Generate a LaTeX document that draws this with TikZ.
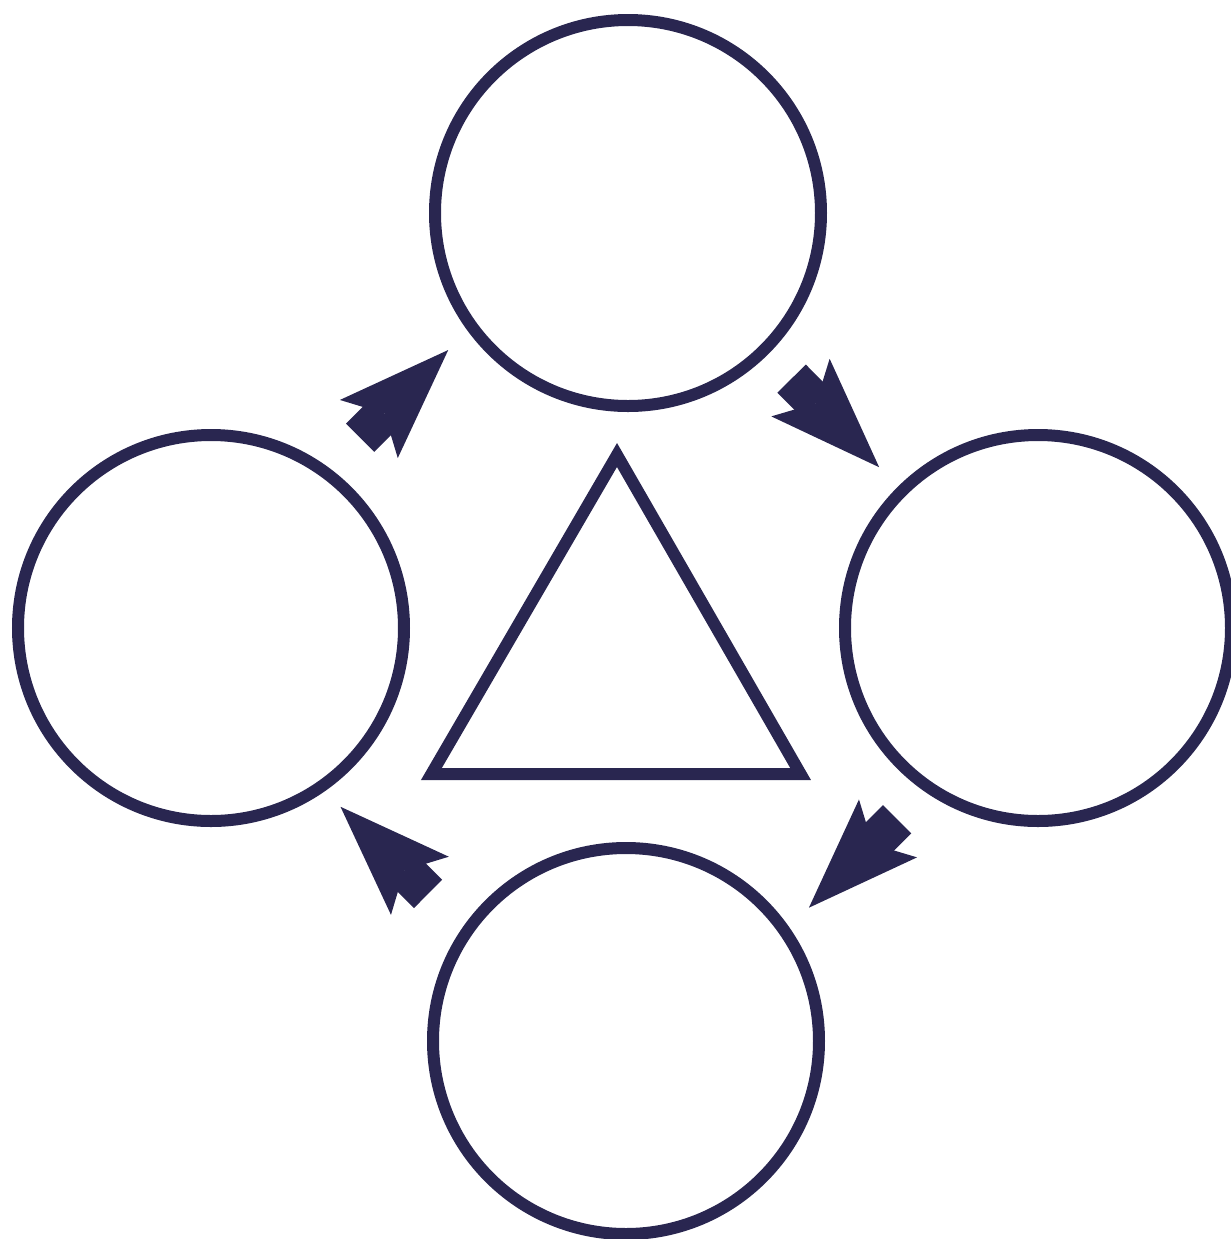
\documentclass[tikz,border=0pt]{standalone}
\usetikzlibrary{arrows.meta}
\definecolor{ink}{RGB}{41,38,80}
\begin{document}
\begin{tikzpicture}[
  x=0.5pt, y=-0.5pt,
  stage/.style={circle, draw=ink, line width=6pt, minimum size=193pt, inner sep=0pt},
  flow/.style={-{Stealth[length=56pt, width=41pt, inset=11pt, line width=0pt]}, draw=ink, line width=20pt},
  core/.style={draw=ink, line width=6pt, line join=miter}
]
\clip (0,0) rectangle (1231,1239);

\node[stage] (top) at (628,213) {};
\node[stage] (right) at (1038,628) {};
\node[stage] (bottom) at (626,1041) {};
\node[stage] (left) at (211,628) {};

\draw[core] (617,455) -- (800.6,774) -- (431.4,774) -- cycle;

\draw[flow, transform canvas={shift={(-21,-21)}}, shorten <=120pt, shorten >=112pt] (left.center) -- (top.center);
\draw[flow, shorten <=116.4pt, shorten >=113pt] (top.center) -- (right.center);
\draw[flow, transform canvas={shift={(25,25)}}, shorten <=117.4pt, shorten >=111.8pt] (right.center) -- (bottom.center);
\draw[flow, transform canvas={shift={(-25,25)}}, shorten <=122pt, shorten >=109pt] (bottom.center) -- (left.center);

\end{tikzpicture}
\end{document}
